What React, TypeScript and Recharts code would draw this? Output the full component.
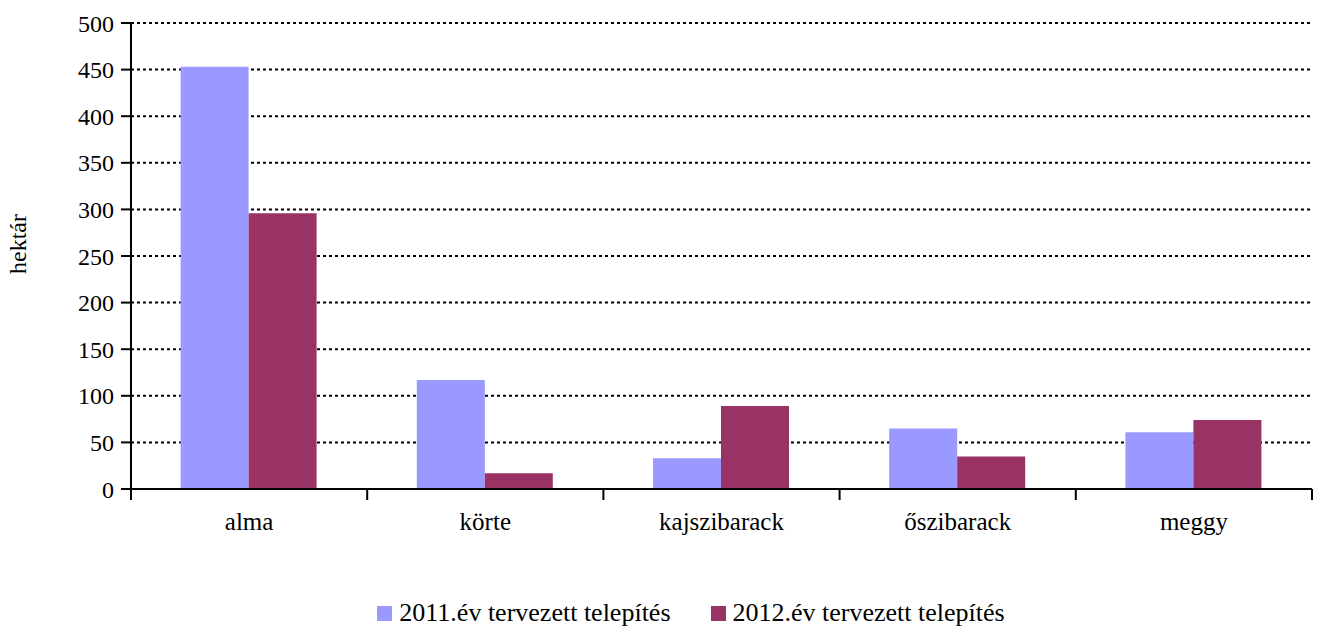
import { BarChart, Bar, XAxis, YAxis, CartesianGrid, Legend, Label } from "recharts";

const categories = ["alma", "körte", "kajszibarack", "őszibarack", "meggy"];
const plan2011 = [453, 117, 33, 65, 61];
const plan2012 = [296, 17, 89, 35, 74];
const yTicks = [0, 50, 100, 150, 200, 250, 300, 350, 400, 450, 500];

const SERIES_2011 = "2011.év tervezett telepítés";
const SERIES_2012 = "2012.év tervezett telepítés";

const data = categories.map((name, i) => ({
  name,
  [SERIES_2011]: plan2011[i],
  [SERIES_2012]: plan2012[i],
}));

const FONT = "'Liberation Serif', 'Times New Roman', serif";

// category label plus the tick marks on the band boundaries
function CategoryTick({ x, y, payload, index, visibleTicksCount }: any) {
  const half = payload.offset || 0;
  const last = index === visibleTicksCount - 1;
  return (
    <g>
      <line x1={x - half} x2={x - half} y1={y - 8} y2={y + 3} stroke="#000" strokeWidth={2} />
      {last && <line x1={x + half} x2={x + half} y1={y - 8} y2={y + 3} stroke="#000" strokeWidth={2} />}
      <text x={x} y={y + 33} textAnchor="middle" fill="#000" fontSize={25} fontFamily={FONT}>
        {payload.value}
      </text>
    </g>
  );
}

function AxisTitle({ viewBox }: any) {
  const cx = 18;
  const cy = viewBox.y + viewBox.height / 2 - 12;
  return (
    <text
      x={cx}
      y={cy}
      transform={`rotate(-90, ${cx}, ${cy})`}
      textAnchor="middle"
      dominantBaseline="central"
      fill="#000"
      fontSize={24}
      fontFamily={FONT}
    >
      hektár
    </text>
  );
}

function LegendContent({ payload }: any) {
  return (
    <div style={{ display: "flex", justifyContent: "center", paddingLeft: 70, fontFamily: FONT, fontSize: 26, color: "#000", lineHeight: "30px" }}>
      {(payload || []).map((entry: any) => (
        <div key={entry.value} style={{ display: "flex", alignItems: "center", margin: "0 20px" }}>
          <span style={{ width: 15, height: 15, background: entry.color, display: "inline-block", marginRight: 7 }} />
          <span>{entry.value}</span>
        </div>
      ))}
    </div>
  );
}

export default function App() {
  return (
    <div style={{ position: "absolute", left: 0, top: 0, background: "#fff" }}>
      <BarChart
        width={1319}
        height={631}
        data={data}
        margin={{ top: 23, right: 7, left: 0, bottom: 0 }}
        barCategoryGap="21%"
        barGap={0}
      >
        <CartesianGrid vertical={false} stroke="#000" strokeWidth={2} strokeDasharray="3 3" />
        <XAxis
          dataKey="name"
          height={112}
          tickLine={false}
          axisLine={{ stroke: "#000", strokeWidth: 2 }}
          tick={<CategoryTick />}
          interval={0}
        />
        <YAxis
          width={131}
          domain={[0, 500]}
          ticks={yTicks}
          interval={0}
          tickSize={10}
          axisLine={{ stroke: "#000", strokeWidth: 2 }}
          tickLine={{ stroke: "#000", strokeWidth: 2 }}
          tick={{ fill: "#000", fontSize: 24, fontFamily: FONT, dx: -5 }}
        >
          <Label content={<AxisTitle />} />
        </YAxis>
        <Legend verticalAlign="bottom" content={<LegendContent />} wrapperStyle={{ bottom: 3 }} />
        <Bar dataKey={SERIES_2011} fill="#9999FF" isAnimationActive={false} />
        <Bar dataKey={SERIES_2012} fill="#993366" isAnimationActive={false} />
      </BarChart>
    </div>
  );
}
